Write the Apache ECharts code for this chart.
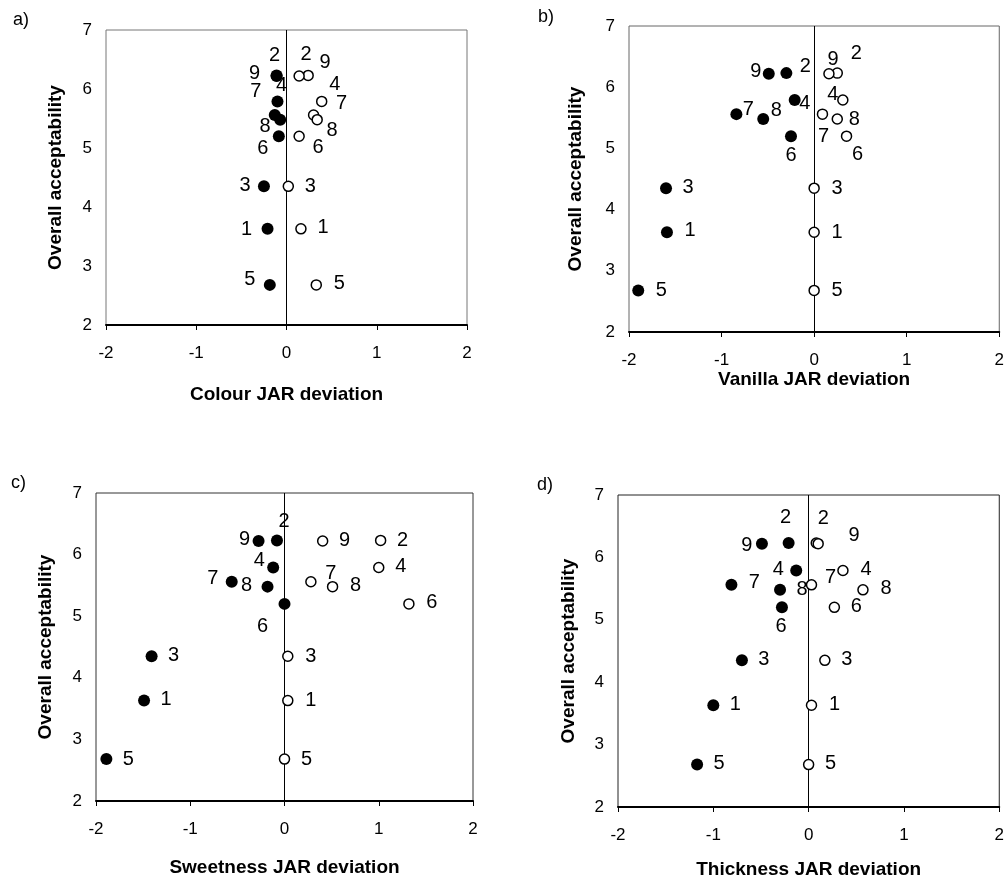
<!DOCTYPE html>
<html>
<head>
<meta charset="utf-8">
<script src="https://cdn.jsdelivr.net/npm/echarts@6/dist/echarts.min.js"></script>
<style>
html,body{margin:0;padding:0;background:#fff;}
#chart{width:1007px;height:886px;}
</style>
</head>
<body>
<div id="chart"></div>
<script>
// ---- Data (sample 1..9) ----
const samples = ['1','2','3','4','5','6','7','8','9'];
const acceptability = [3.63, 6.23, 4.35, 5.79, 2.68, 5.20, 5.56, 5.48, 6.22];
const xTicks = [-2, -1, 0, 1, 2];
const yTicks = [2, 3, 4, 5, 6, 7];

const colourLow  = [-0.21, -0.11, -0.25, -0.10, -0.185, -0.085, -0.13, -0.07, -0.11];
const colourHigh = [0.16, 0.24, 0.02, 0.39, 0.33, 0.14, 0.30, 0.34, 0.14];

const vanillaLow  = [-1.59, -0.30, -1.60, -0.21, -1.90, -0.25, -0.84, -0.55, -0.49];
const vanillaHigh = [0.0, 0.25, 0.0, 0.31, 0.0, 0.35, 0.09, 0.25, 0.16];

const sweetnessLow  = [-1.49, -0.08, -1.41, -0.12, -1.89, 0.0, -0.56, -0.18, -0.275];
const sweetnessHigh = [0.035, 1.02, 0.035, 1.0, 0.0, 1.32, 0.28, 0.51, 0.405];

const thicknessLow  = [-1.00, -0.21, -0.70, -0.13, -1.17, -0.28, -0.81, -0.30, -0.49];
const thicknessHigh = [0.03, 0.08, 0.17, 0.36, 0.0, 0.27, 0.03, 0.57, 0.10];

const panelLetters = ['a)', 'b)', 'c)', 'd)'];
const xTitles = ['Colour JAR deviation', 'Vanilla JAR deviation', 'Sweetness JAR deviation', 'Thickness JAR deviation'];
const yTitle = 'Overall acceptability';

// ---- Layout / styling (not data) ----
const layout = [
  {grid:{left:106, top:30, width:361, height:295}, border:'#777', xGap:60, yGap:41, letter:[13,11]},
  {grid:{left:629, top:26, width:371, height:306}, border:'#666', xGap:38, yGap:44, letter:[538,8]},
  {grid:{left:96, top:493, width:377, height:308}, border:'#333', xGap:57, yGap:41, letter:[11,474]},
  {grid:{left:618, top:495, width:382, height:312}, border:'#222', xGap:53, yGap:40, letter:[537,476]}
];
const labelOffsets = [
  { low:[[-21,1],[-2,-20],[-19,-1],[4,-16],[-20,-5],[-16,12],[-19,-23],[-15,7],[-22,-3]],
    high:[[22,-1],[-2,-21],[22,0],[13,-17],[23,-1],[19,11],[28,-11],[15,11],[26,-14]] },
  { low:[[23,-2],[19,-7],[22,-1],[10,3],[23,0],[0,19],[12,-5],[13,-9],[-13,-2]],
    high:[[23,0],[19,-20],[23,0],[-10,-6],[23,0],[11,18],[1,22],[17,0],[4,-14]] },
  { low:[[22,-1],[7,-19],[22,-1],[-14,-7],[22,0],[-22,23],[-19,-3],[-21,-1],[-14,-2]],
    high:[[23,0],[22,0],[23,0],[22,-1],[22,0],[23,-1],[20,-8],[23,-1],[22,-1]] },
  { low:[[22,-1],[-3,-26],[22,-1],[-18,-1],[22,-1],[-1,19],[23,-2],[22,0],[-15,2]],
    high:[[23,-1],[7,-25],[22,-1],[23,-1],[22,-1],[22,-1],[19,-7],[23,-1],[36,-8]] }
];

const panelData = [
  [colourLow, colourHigh],
  [vanillaLow, vanillaHigh],
  [sweetnessLow, sweetnessHigh],
  [thicknessLow, thicknessHigh]
];

const FONT = '"Liberation Sans", Arial, sans-serif';

function points(xs, offsets) {
  return xs.map((x, i) => ({
    value: [x, acceptability[i], samples[i]],
    label: {offset: offsets[i]}
  }));
}

const grids = [], xAxes = [], yAxes = [], series = [], graphics = [];
panelData.forEach((pd, p) => {
  const L = layout[p];
  grids.push(Object.assign({show:true, borderColor:L.border, borderWidth:1, backgroundColor:'#fff'}, L.grid));
  xAxes.push({
    type:'value', gridIndex:p, min:xTicks[0], max:xTicks[xTicks.length-1], interval:1,
    name:xTitles[p], nameLocation:'middle', nameGap:L.xGap,
    nameTextStyle:{fontFamily:FONT, fontSize:19, fontWeight:'bold', color:'#000'},
    axisLine:{show:true, onZero:false, lineStyle:{color:'#000', width:2}},
    axisTick:{show:true, length:5, lineStyle:{color:'#000', width:1}},
    axisLabel:{fontFamily:FONT, fontSize:17, color:'#000', margin:20},
    splitLine:{show:false}
  });
  yAxes.push({
    type:'value', gridIndex:p, min:yTicks[0], max:yTicks[yTicks.length-1], interval:1,
    name:yTitle, nameLocation:'middle', nameGap:L.yGap, nameRotate:90,
    nameTextStyle:{fontFamily:FONT, fontSize:19, fontWeight:'bold', color:'#000'},
    axisLine:{show:false}, axisTick:{show:false},
    axisLabel:{fontFamily:FONT, fontSize:17, color:'#000', margin:14},
    splitLine:{show:false}
  });
  const labelStyle = {
    show:true, position:'inside', fontFamily:FONT, fontSize:20, color:'#000', opacity:1,
    formatter: (prm) => prm.value[2]
  };
  series.push({
    type:'scatter', xAxisIndex:p, yAxisIndex:p, symbol:'circle', symbolSize:12,
    itemStyle:{color:'#000', opacity:1}, label:labelStyle, z:3,
    emphasis:{disabled:true},
    data: points(pd[0], labelOffsets[p].low),
    markLine:{silent:true, symbol:'none', label:{show:false},
      lineStyle:{color:'#000', width:1, type:'solid', opacity:1}, data:[{xAxis:0}], z:1}
  });
  series.push({
    type:'scatter', xAxisIndex:p, yAxisIndex:p, symbol:'circle', symbolSize:10,
    itemStyle:{color:'#fff', borderColor:'#000', borderWidth:1.5, opacity:1}, label:labelStyle, z:4,
    emphasis:{disabled:true},
    data: points(pd[1], labelOffsets[p].high)
  });
  graphics.push({type:'text', left:L.letter[0], top:L.letter[1],
    style:{text:panelLetters[p], font:'18px ' + FONT, fill:'#000'}});
});

const chart = echarts.init(document.getElementById('chart'), null, {renderer:'canvas'});
chart.setOption({
  animation:false,
  backgroundColor:'#fff',
  grid:grids, xAxis:xAxes, yAxis:yAxes, series:series, graphic:graphics
});
</script>
</body>
</html>
